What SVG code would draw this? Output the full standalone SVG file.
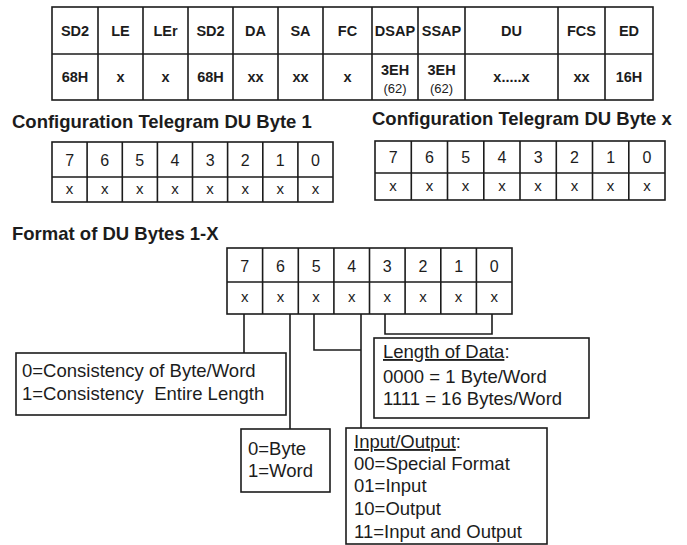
<svg xmlns="http://www.w3.org/2000/svg" width="687" height="545" viewBox="0 0 687 545">
<style>
.ln{stroke:#1c1c1c;stroke-width:1.6;fill:none}
.bx{stroke:#1c1c1c;stroke-width:1.6;fill:#fff}
.th{font-family:"Liberation Sans",Arial,sans-serif;font-weight:bold;font-size:14.5px;fill:#1c1c1c;text-anchor:middle}
.sm{font-family:"Liberation Sans",Arial,sans-serif;font-size:13px;fill:#1c1c1c;text-anchor:middle}
.hd{font-family:"Liberation Sans",Arial,sans-serif;font-weight:bold;font-size:18.5px;fill:#1c1c1c}
.bt{font-family:"Liberation Sans",Arial,sans-serif;font-size:16px;fill:#1c1c1c;text-anchor:middle}
.bx2{font-family:"Liberation Sans",Arial,sans-serif;font-size:15px;fill:#1c1c1c;text-anchor:middle}
.tx{font-family:"Liberation Sans",Arial,sans-serif;font-size:18.5px;fill:#1c1c1c}
.u{text-decoration:underline}
</style>
<rect width="687" height="545" fill="#fff"/>

<g id="telegram-frame">
<rect class="bx" x="52" y="7" width="601" height="93"/>
<path class="ln" d="M52,54H653 M98,7V100 M143,7V100 M188,7V100 M233,7V100 M278,7V100 M323,7V100 M372,7V100 M418,7V100 M465,7V100 M558,7V100 M605,7V100"/>
<text class="th" x="75" y="36">SD2</text>
<text class="th" x="120.5" y="36">LE</text>
<text class="th" x="165.5" y="36">LEr</text>
<text class="th" x="210.5" y="36">SD2</text>
<text class="th" x="255.5" y="36">DA</text>
<text class="th" x="300.5" y="36">SA</text>
<text class="th" x="347.5" y="36">FC</text>
<text class="th" x="395" y="36">DSAP</text>
<text class="th" x="441.5" y="36">SSAP</text>
<text class="th" x="511.5" y="36">DU</text>
<text class="th" x="581.5" y="36">FCS</text>
<text class="th" x="629" y="36">ED</text>
<text class="th" x="75" y="82">68H</text>
<text class="th" x="120.5" y="82">x</text>
<text class="th" x="165.5" y="82">x</text>
<text class="th" x="210.5" y="82">68H</text>
<text class="th" x="255.5" y="82">xx</text>
<text class="th" x="300.5" y="82">xx</text>
<text class="th" x="347.5" y="82">x</text>
<text class="th" x="395" y="75">3EH</text>
<text class="sm" x="395" y="93">(62)</text>
<text class="th" x="441.5" y="75">3EH</text>
<text class="sm" x="441.5" y="93">(62)</text>
<text class="th" x="511.5" y="82">x.....x</text>
<text class="th" x="581.5" y="82">xx</text>
<text class="th" x="629" y="82">16H</text>
</g>

<g id="du-byte-1">
<text class="hd" x="12" y="128">Configuration Telegram DU Byte 1</text>
<rect class="bx" x="52" y="142" width="281" height="60"/>
<path class="ln" d="M52,177H333 M87.1,142V202 M122.3,142V202 M157.4,142V202 M192.5,142V202 M227.6,142V202 M262.8,142V202 M297.9,142V202"/>
<text class="bt" x="69.6" y="166">7</text><text class="bt" x="104.7" y="166">6</text><text class="bt" x="139.8" y="166">5</text><text class="bt" x="175" y="166">4</text><text class="bt" x="210.1" y="166">3</text><text class="bt" x="245.2" y="166">2</text><text class="bt" x="280.3" y="166">1</text><text class="bt" x="315.5" y="166">0</text>
<text class="bx2" x="69.6" y="194">x</text><text class="bx2" x="104.7" y="194">x</text><text class="bx2" x="139.8" y="194">x</text><text class="bx2" x="175" y="194">x</text><text class="bx2" x="210.1" y="194">x</text><text class="bx2" x="245.2" y="194">x</text><text class="bx2" x="280.3" y="194">x</text><text class="bx2" x="315.5" y="194">x</text>
</g>

<g id="du-byte-x">
<text class="hd" x="372" y="125">Configuration Telegram DU Byte x</text>
<rect class="bx" x="375" y="141" width="290" height="59"/>
<path class="ln" d="M375,173H665 M411.3,141V200 M447.5,141V200 M483.8,141V200 M520,141V200 M556.3,141V200 M592.5,141V200 M628.8,141V200"/>
<text class="bt" x="393.1" y="163">7</text><text class="bt" x="429.4" y="163">6</text><text class="bt" x="465.6" y="163">5</text><text class="bt" x="501.9" y="163">4</text><text class="bt" x="538.1" y="163">3</text><text class="bt" x="574.4" y="163">2</text><text class="bt" x="610.6" y="163">1</text><text class="bt" x="646.9" y="163">0</text>
<text class="bx2" x="393.1" y="191">x</text><text class="bx2" x="429.4" y="191">x</text><text class="bx2" x="465.6" y="191">x</text><text class="bx2" x="501.9" y="191">x</text><text class="bx2" x="538.1" y="191">x</text><text class="bx2" x="574.4" y="191">x</text><text class="bx2" x="610.6" y="191">x</text><text class="bx2" x="646.9" y="191">x</text>
</g>

<g id="du-format">
<text class="hd" x="12" y="240">Format of DU Bytes 1-X</text>
<rect class="bx" x="227" y="248" width="285" height="66"/>
<path class="ln" d="M227,282H512 M262.6,248V314 M298.3,248V314 M333.9,248V314 M369.5,248V314 M405.1,248V314 M440.8,248V314 M476.4,248V314"/>
<text class="bt" x="244.8" y="272">7</text><text class="bt" x="280.5" y="272">6</text><text class="bt" x="316.1" y="272">5</text><text class="bt" x="351.7" y="272">4</text><text class="bt" x="387.3" y="272">3</text><text class="bt" x="422.9" y="272">2</text><text class="bt" x="458.6" y="272">1</text><text class="bt" x="494.2" y="272">0</text>
<text class="bx2" x="244.8" y="302">x</text><text class="bx2" x="280.5" y="302">x</text><text class="bx2" x="316.1" y="302">x</text><text class="bx2" x="351.7" y="302">x</text><text class="bx2" x="387.3" y="302">x</text><text class="bx2" x="422.9" y="302">x</text><text class="bx2" x="458.6" y="302">x</text><text class="bx2" x="494.2" y="302">x</text>
</g>

<g id="connectors">
<path class="ln" d="M244,314V353"/>
<path class="ln" d="M290,314V429"/>
<path class="ln" d="M314,314V350H361"/>
<path class="ln" d="M361,314V428"/>
<path class="ln" d="M385,314V334H492V314"/>
</g>

<g id="consistency-box">
<rect class="bx" x="16" y="353" width="270" height="62"/>
<text class="tx" x="22" y="377">0=Consistency of Byte/Word</text>
<text class="tx" x="22" y="400" xml:space="preserve">1=Consistency  Entire Length</text>
</g>

<g id="byte-word-box">
<rect class="bx" x="241" y="429" width="89" height="63"/>
<text class="tx" x="248" y="455">0=Byte</text>
<text class="tx" x="248" y="477">1=Word</text>
</g>

<g id="length-box">
<rect class="bx" x="374" y="338" width="215" height="80"/>
<text class="tx" x="383" y="358"><tspan class="u">Length of Data</tspan>:</text>
<text class="tx" x="383" y="383">0000 = 1 Byte/Word</text>
<text class="tx" x="383" y="405">1111 = 16 Bytes/Word</text>
</g>

<g id="io-box">
<rect class="bx" x="346" y="428" width="201" height="116"/>
<text class="tx" x="354" y="448"><tspan class="u">Input/Output</tspan>:</text>
<text class="tx" x="354" y="470">00=Special Format</text>
<text class="tx" x="354" y="492">01=Input</text>
<text class="tx" x="354" y="515">10=Output</text>
<text class="tx" x="354" y="538">11=Input and Output</text>
</g>
</svg>
